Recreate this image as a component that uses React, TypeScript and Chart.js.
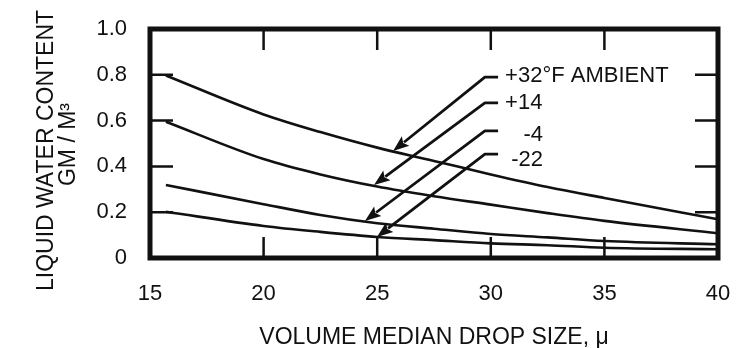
import React, { useEffect, useRef } from 'react';
import { Chart, registerables } from 'chart.js';

Chart.register(...registerables);

const FONT = '"Liberation Sans", Arial, Helvetica, sans-serif';
const INK = '#111111';

// Volume median drop size (microns)
const dropSizes = [15.7, 20, 22.5, 25, 27.5, 30, 32.5, 35, 40];
// Liquid water content (g/m^3) per ambient temperature
const lwcPlus32 = [0.797, 0.627, 0.55, 0.482, 0.424, 0.365, 0.31, 0.262, 0.169];
const lwcPlus14 = [0.595, 0.432, 0.365, 0.312, 0.27, 0.233, 0.196, 0.162, 0.108];
const lwcMinus4 = [0.319, 0.235, 0.188, 0.152, 0.128, 0.105, 0.09, 0.074, 0.06];
const lwcMinus22 = [0.202, 0.14, 0.114, 0.092, 0.078, 0.064, 0.056, 0.045, 0.038];

const seriesLabels = ['+32°F AMBIENT', '+14', '-4', '-22'];

const xTitle = 'VOLUME MEDIAN DROP SIZE, μ';
const yTitleLines = ['LIQUID WATER CONTENT', 'GM / M³'];

const yTickLabels = ['0', '0.2', '0.4', '0.6', '0.8', '1.0'];
const innerXTicks = [20, 25, 30, 35];
const innerYTicks = [0.2, 0.4, 0.6, 0.8];

// Callout arrows (data coordinates): leader start x, bend x, leader y, tip x, tip y
const leaderStartX = 30.32;
const leaderBendX = 29.74;
const leaderY = [0.79, 0.677, 0.555, 0.454];
const arrowTipX = [25.7, 24.86, 24.46, 24.99];
const arrowTipY = [0.467, 0.319, 0.162, 0.092];
// Callout label anchors
const labelX = [30.63, 30.63, 32.3, 32.3];
const labelY = [0.795, 0.677, 0.537, 0.428];
const labelAlign: CanvasTextAlign[] = ['left', 'left', 'right', 'right'];

const toPoints = (ys: number[]) => dropSizes.map((x, i) => ({ x, y: ys[i] }));

const frameAndNotes = {
  id: 'frameAndNotes',
  afterDatasetsDraw(chart: any) {
    const { ctx, chartArea: a, scales } = chart;
    const xs = scales.x;
    const ys = scales.y;
    ctx.save();
    ctx.strokeStyle = INK;
    ctx.fillStyle = INK;

    // inward tick marks
    ctx.lineWidth = 2.5;
    ctx.beginPath();
    for (const v of innerXTicks) {
      const px = xs.getPixelForValue(v);
      ctx.moveTo(px, a.top);
      ctx.lineTo(px, a.top + 21);
      ctx.moveTo(px, a.bottom);
      ctx.lineTo(px, a.bottom - 21);
    }
    for (const v of innerYTicks) {
      const py = ys.getPixelForValue(v);
      ctx.moveTo(a.left, py);
      ctx.lineTo(a.left + 23, py);
      ctx.moveTo(a.right, py);
      ctx.lineTo(a.right - 23, py);
    }
    ctx.stroke();

    // heavy frame
    ctx.lineWidth = 5;
    ctx.strokeRect(a.left, a.top, a.right - a.left, a.bottom - a.top);

    // callout arrows
    ctx.lineWidth = 2.8;
    ctx.lineJoin = 'round';
    ctx.lineCap = 'butt';
    for (let i = 0; i < leaderY.length; i++) {
      const x0 = xs.getPixelForValue(leaderStartX);
      const x1 = xs.getPixelForValue(leaderBendX);
      const y01 = ys.getPixelForValue(leaderY[i]);
      const tx = xs.getPixelForValue(arrowTipX[i]);
      const ty = ys.getPixelForValue(arrowTipY[i]);
      const dx = tx - x1;
      const dy = ty - y01;
      const len = Math.hypot(dx, dy);
      const ux = dx / len;
      const uy = dy / len;
      const headLen = 16;
      const headHalf = 6;
      const bx = tx - ux * headLen;
      const by = ty - uy * headLen;
      ctx.beginPath();
      ctx.moveTo(x0, y01);
      ctx.lineTo(x1, y01);
      ctx.lineTo(bx + ux * 2, by + uy * 2);
      ctx.stroke();
      ctx.beginPath();
      ctx.moveTo(tx, ty);
      ctx.lineTo(bx - uy * headHalf, by + ux * headHalf);
      ctx.lineTo(bx + ux * 3, by + uy * 3);
      ctx.lineTo(bx + uy * headHalf, by - ux * headHalf);
      ctx.closePath();
      ctx.fill();
    }

    // callout labels
    ctx.font = `22px ${FONT}`;
    ctx.textBaseline = 'middle';
    for (let i = 0; i < seriesLabels.length; i++) {
      ctx.textAlign = labelAlign[i];
      ctx.fillText(seriesLabels[i], xs.getPixelForValue(labelX[i]), ys.getPixelForValue(labelY[i]));
    }

    // rotated two-line y-axis title
    const midY = (a.top + a.bottom) / 2;
    ctx.font = `23px ${FONT}`;
    ctx.textAlign = 'center';
    ctx.textBaseline = 'middle';
    const titleCols = [47, 69];
    const titleShift = [7, 1];
    for (let i = 0; i < yTitleLines.length; i++) {
      ctx.save();
      ctx.translate(titleCols[i], midY + titleShift[i]);
      ctx.rotate(-Math.PI / 2);
      ctx.fillText(yTitleLines[i], 0, 0);
      ctx.restore();
    }
    ctx.restore();
  },
};

export default function App() {
  const canvasRef = useRef<HTMLCanvasElement | null>(null);

  useEffect(() => {
    const canvas = canvasRef.current;
    if (!canvas) return;
    const series = [lwcPlus32, lwcPlus14, lwcMinus4, lwcMinus22];
    const chart = new Chart(canvas, {
      type: 'line',
      data: {
        datasets: series.map((ys, i) => ({
          label: seriesLabels[i],
          data: toPoints(ys),
          borderColor: INK,
          borderWidth: 2.6,
          pointRadius: 0,
          fill: false,
          cubicInterpolationMode: 'monotone' as const,
        })),
      },
      options: {
        animation: false,
        responsive: false,
        maintainAspectRatio: false,
        devicePixelRatio: 1,
        layout: { padding: { left: 0, top: 29, right: 22, bottom: 0 } },
        plugins: { legend: { display: false }, tooltip: { enabled: false } },
        scales: {
          x: {
            type: 'linear',
            min: 15,
            max: 40,
            afterFit: (s: any) => {
              s.height = 90;
              s.paddingLeft = 0;
              s.paddingRight = 0;
            },
            grid: { display: false, drawTicks: false },
            border: { display: false },
            ticks: {
              stepSize: 5,
              maxRotation: 0,
              color: INK,
              padding: 23,
              font: { family: FONT, size: 22 },
            },
            title: {
              display: true,
              text: xTitle,
              color: INK,
              font: { family: FONT, size: 23, lineHeight: 0.87 },
              padding: { top: 0, bottom: 0 },
            },
          },
          y: {
            type: 'linear',
            min: 0,
            max: 1,
            afterFit: (s: any) => {
              s.width = 150;
              s.paddingTop = 0;
              s.paddingBottom = 0;
            },
            grid: { display: false, drawTicks: false },
            border: { display: false },
            ticks: {
              stepSize: 0.2,
              color: INK,
              padding: 23,
              font: { family: FONT, size: 22 },
              callback: (v: any) => yTickLabels[Math.round(Number(v) / 0.2)],
            },
            title: { display: false, text: yTitleLines },
          },
        },
      },
      plugins: [frameAndNotes],
    });
    return () => chart.destroy();
  }, []);

  return (
    <div style={{ position: 'absolute', left: 0, top: 0, width: 740, height: 348, background: '#fff' }}>
      <canvas ref={canvasRef} width={740} height={348} />
    </div>
  );
}
